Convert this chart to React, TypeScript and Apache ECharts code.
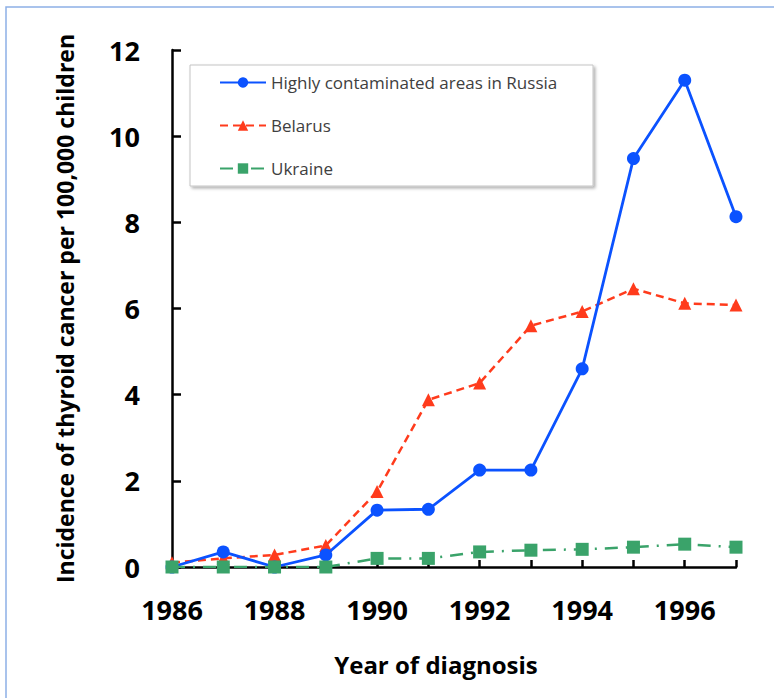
import React, { useEffect, useRef } from "react";
import * as echarts from "echarts";

const years = [1986, 1987, 1988, 1989, 1990, 1991, 1992, 1993, 1994, 1995, 1996, 1997];
const russia = [0, 0.35, 0, 0.28, 1.32, 1.34, 2.25, 2.25, 4.6, 9.48, 11.3, 8.13];
const belarus = [0.1, 0.2, 0.28, 0.5, 1.75, 3.88, 4.27, 5.6, 5.93, 6.46, 6.12, 6.08];
const ukraine = [0, 0, 0, 0, 0.2, 0.2, 0.35, 0.39, 0.41, 0.46, 0.53, 0.46];
const seriesNames = ["Highly contaminated areas in Russia", "Belarus", "Ukraine"];
const yTicks = [0, 2, 4, 6, 8, 10, 12];
const xTitle = "Year of diagnosis";
const yTitle = "Incidence of thyroid cancer per 100,000 children";

const FONT = "'Open Sans', 'DejaVu Sans', sans-serif";

export default function App() {
  const ref = useRef<HTMLDivElement>(null);
  useEffect(() => {
    if (!ref.current) return;
    const chart = echarts.init(ref.current, undefined, { renderer: "svg" });
    const pair = (arr: number[]) => years.map((y, i) => [y, arr[i]]);
    chart.setOption({
      animation: false,
      backgroundColor: "#ffffff",
      grid: { left: 172, right: 38, top: 50, bottom: 131, containLabel: false },
      xAxis: {
        type: "value",
        min: years[0],
        max: years[years.length - 1],
        interval: 1,
        axisLine: { show: true, lineStyle: { color: "#000", width: 2.5 } },
        axisTick: { show: true, inside: true, length: 7, lineStyle: { color: "#000", width: 2.5 } },
        splitLine: { show: false },
        axisLabel: {
          margin: 29,
          fontSize: 27,
          fontWeight: "bold",
          color: "#000",
          fontFamily: FONT,
          formatter: (v: number) => (v % 2 === 0 ? String(v) : ""),
        },
      },
      yAxis: {
        type: "value",
        min: yTicks[0],
        max: yTicks[yTicks.length - 1],
        interval: 2,
        name: yTitle,
        nameLocation: "middle",
        nameGap: 96,
        nameRotate: 90,
        nameTextStyle: { fontSize: 23, fontWeight: "bold", color: "#000", fontFamily: FONT },
        axisLine: { show: true, lineStyle: { color: "#000", width: 2.5 } },
        axisTick: { show: true, inside: true, length: 9, lineStyle: { color: "#000", width: 2.5 } },
        splitLine: { show: false },
        axisLabel: { margin: 32, fontSize: 27, fontWeight: "bold", color: "#000", fontFamily: FONT },
      },
      legend: {
        orient: "vertical",
        left: 219,
        top: 74,
        padding: 0,
        itemWidth: 46,
        itemHeight: 13,
        itemGap: 26,
        data: seriesNames,
        textStyle: { fontSize: 17, color: "#404040", fontFamily: FONT },
      },
      graphic: [
        {
          type: "rect",
          z: -10,
          shape: { x: 6, y: 7, width: 800, height: 760 },
          style: { fill: "none", stroke: "#8db0e6", lineWidth: 1.5 },
        },
        {
          type: "rect",
          z: 1,
          shape: { x: 190, y: 65, width: 403, height: 121 },
          style: {
            fill: "#ffffff",
            stroke: "#c4c4c4",
            lineWidth: 1,
            shadowBlur: 3,
            shadowOffsetX: 2,
            shadowOffsetY: 2,
            shadowColor: "rgba(0,0,0,0.3)",
          },
        },
        {
          type: "text",
          x: 436,
          y: 664,
          style: {
            text: xTitle,
            fontSize: 24,
            fontWeight: "bold",
            fill: "#000",
            fontFamily: FONT,
            textAlign: "center",
            textVerticalAlign: "middle",
          },
        },
      ],
      series: [
        {
          name: seriesNames[0],
          type: "line",
          data: pair(russia),
          symbol: "circle",
          symbolSize: 13,
          z: 3,
          itemStyle: { color: "#0b52ff" },
          lineStyle: { color: "#0b52ff", width: 2.8, type: "solid" },
        },
        {
          name: seriesNames[1],
          type: "line",
          data: pair(belarus),
          symbol: "triangle",
          symbolSize: 13,
          z: 2,
          itemStyle: { color: "#ff3b1c" },
          lineStyle: { color: "#ff3b1c", width: 2.5, type: [8, 5] },
        },
        {
          name: seriesNames[2],
          type: "line",
          data: pair(ukraine),
          symbol: "rect",
          symbolSize: 13,
          z: 4,
          itemStyle: { color: "#3aa36a" },
          lineStyle: { color: "#3aa36a", width: 2.5, type: [13, 8, 2, 8] },
        },
      ],
    });
    return () => chart.dispose();
  }, []);
  return (
    <div style={{ position: "absolute", left: 0, top: 0, width: 774, height: 698, background: "#fff" }}>
      <div ref={ref} style={{ width: 774, height: 698 }} />
    </div>
  );
}
